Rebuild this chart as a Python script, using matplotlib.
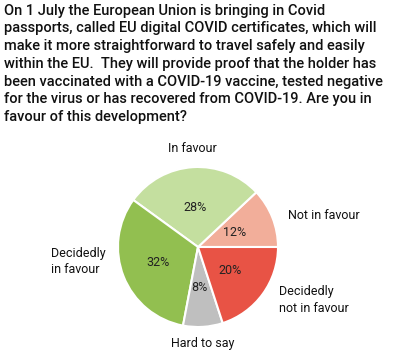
import matplotlib.pyplot as plt

# ============================================
# DATA
# ============================================
categories = ["Not in favour", "In favour", "Decidedly\nin favour",
              "Hard to say", "Decidedly\nnot in favour"]
shares = [12, 28, 32, 8, 20]
colors = ["#f2ae9a", "#c4df9f", "#92bf50", "#bfbfbf", "#e85345"]

title = ("On 1 July the European Union is bringing in Covid\n"
         "passports, called EU digital COVID certificates, which will\n"
         "make it more straightforward to travel safely and easily\n"
         "within the EU.  They will provide proof that the holder has\n"
         "been vaccinated with a COVID-19 vaccine, tested negative\n"
         "for the virus or has recovered from COVID-19. Are you in\n"
         "favour of this development?")

plt.rcParams["font.family"] = ["Roboto", "DejaVu Sans"]

# ============================================
# PLOT
# ============================================
fig = plt.figure(figsize=(3.97, 3.59), dpi=100)
fig.text(0.01, 0.99, title, ha="left", va="top", fontsize=10.5,
         fontweight="medium", linespacing=1.34, color="#111111")

# pie centred at ~(198, 247) px, radius ~80 px
ax = fig.add_axes([(198 - 80) / 397, 1 - (247 + 80) / 359, 160 / 397, 160 / 359])
wedges, _ = ax.pie(shares, colors=colors, startangle=0, counterclock=True,
                   wedgeprops=dict(edgecolor="white", linewidth=1.5),
                   radius=1.0)
ax.set_aspect("equal")
ax.set_xlim(-1, 1)
ax.set_ylim(-1, 1)

# percentage labels
pct_pos = [(0.46, 0.18), (-0.04, 0.50), (-0.50, -0.19), (0.02, -0.51), (0.40, -0.29)]
for (x, y), s in zip(pct_pos, shares):
    ax.text(x, y, f"{s}%", ha="center", va="center", fontsize=9, color="#222222")

# category labels
lab_pos = [(1.13, 0.39, "left"), (-0.07, 1.23, "center"), (-1.84, -0.18, "left"),
           (0.06, -1.21, "center"), (1.01, -0.66, "left")]
for (x, y, ha), c in zip(lab_pos, categories):
    ax.text(x, y, c, ha=ha, va="center", fontsize=9, color="#111111",
            linespacing=1.35, clip_on=False)

plt.savefig("out.png", dpi=100)
